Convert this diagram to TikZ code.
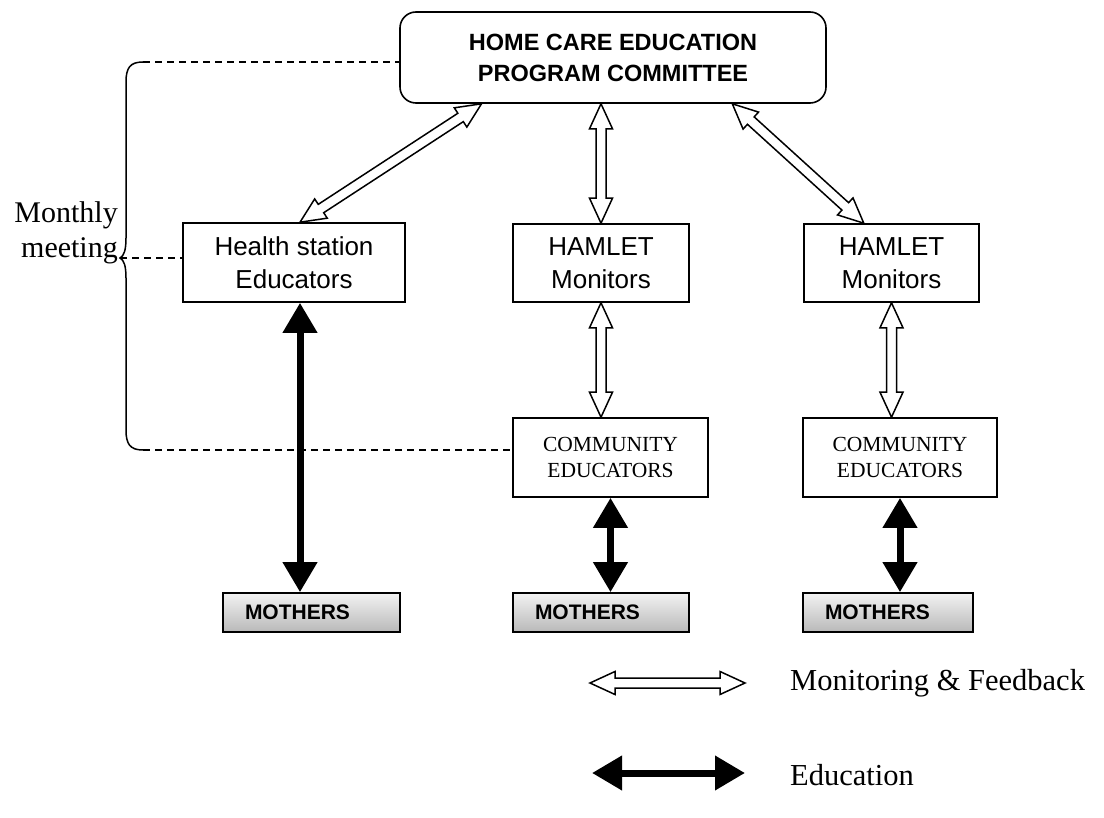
\documentclass[tikz,border=0pt]{standalone}
\usepackage{fontspec}
\setmainfont{Liberation Serif}
\newfontfamily\arialfont{Liberation Sans}
\usetikzlibrary{calc,arrows.meta}
\def\hlen{25pt}\def\hw{11.5pt}\def\sw{5pt}
\newcommand\hollowarr[2]{%
\draw[hollowline]
 (#1)
 -- ($(#1)!\hlen!(#2)!\hw!90:(#2)$)
 -- ($(#1)!\hlen!(#2)!\sw!90:(#2)$)
 -- ($(#2)!\hlen!(#1)!\sw!-90:(#1)$)
 -- ($(#2)!\hlen!(#1)!\hw!-90:(#1)$)
 -- (#2)
 -- ($(#2)!\hlen!(#1)!\hw!90:(#1)$)
 -- ($(#2)!\hlen!(#1)!\sw!90:(#1)$)
 -- ($(#1)!\hlen!(#2)!\sw!-90:(#2)$)
 -- ($(#1)!\hlen!(#2)!\hw!-90:(#2)$)
 -- cycle;}
\begin{document}
\begin{tikzpicture}[x=1pt,y=-1pt,
  box/.style={draw,line width=1.6pt,inner sep=0pt,align=center},
  sansbox/.style={box,font=\arialfont\fontsize{26}{33}\selectfont},
  serifbox/.style={box,font=\fontsize{21.5}{26}\selectfont},
  mothers/.style={draw,line width=1.6pt,inner ysep=0pt,inner xsep=22pt,
    minimum height=39pt,text width=#1,align=left,
    top color=gray!10,bottom color=gray!55,
    font=\arialfont\bfseries\fontsize{21}{24}\selectfont},
  hollowline/.style={draw=black,fill=white,line width=1.5pt,line join=miter},
  edu/.style={line width=7pt,{Triangle[length=30pt,width=33pt]}-{Triangle[length=30pt,width=33pt]}},
  meet/.style={line width=1.5pt,dash pattern=on 7pt off 5pt},
  bracel/.style={line width=1.5pt},
  legtext/.style={font=\fontsize{30.5}{34}\selectfont,anchor=west,inner sep=0pt}]
\useasboundingbox (0,0) rectangle (1104,818);

% boxes
\node[box,rounded corners=16pt,minimum width=426pt,minimum height=91pt,
  font=\arialfont\bfseries\fontsize{23.5}{31}\selectfont] (top) at (613,57.5)
  {HOME CARE EDUCATION\\PROGRAM COMMITTEE};
\node[sansbox,minimum width=222pt,minimum height=79pt] (hs) at (294,262.5) {Health station\\Educators};
\node[sansbox,minimum width=176pt,minimum height=78pt] (hm) at (601,263) {HAMLET\\Monitors};
\node[sansbox,minimum width=175pt,minimum height=78pt] (hr) at (891.5,263) {HAMLET\\Monitors};
\node[serifbox,minimum width=195pt,minimum height=79pt] (cm) at (610.5,457.5) {COMMUNITY\\EDUCATORS};
\node[serifbox,minimum width=194pt,minimum height=79pt] (cr) at (900,457.5) {COMMUNITY\\EDUCATORS};
\node[mothers=133pt] (m1) at (311.5,612.5) {MOTHERS};
\node[mothers=132pt] (m2) at (601,612.5) {MOTHERS};
\node[mothers=126pt] (m3) at (888,612.5) {MOTHERS};

% monthly meeting
\node[align=right,anchor=east,inner sep=0pt,font=\fontsize{30}{35}\selectfont] (mm) at (118,233) {Monthly\\meeting};
\coordinate (bt) at (143,62);
\coordinate (btip) at (120,258);
\coordinate (bb) at (143,450);
\draw[bracel] (bt) .. controls (130,62) and (126,68) .. (126,82) -- (126,238)
  .. controls (126,250) and (124,256) .. (btip)
  .. controls (124,260) and (126,266) .. (126,278) -- (126,430)
  .. controls (126,444) and (130,450) .. (bb);
\draw[meet] (bt) -- (bt -| top.west);
\draw[meet] (btip) -- (btip -| hs.west);
\draw[meet] (bb) -- (bb -| cm.west);

% monitoring arrows
\coordinate (a1) at ($(top.south west)!0.1925!(top.south east)$);
\coordinate (a2) at ($(hs.north west)!0.527!(hs.north east)$);
\coordinate (b1) at (hm.north |- top.south);
\coordinate (b2) at (hm.north);
\coordinate (c1) at ($(top.south west)!0.779!(top.south east)$);
\coordinate (c2) at ($(hr.north west)!0.343!(hr.north east)$);
\coordinate (d1) at (hm.south);
\coordinate (d2) at (hm.south |- cm.north);
\coordinate (e1) at (hr.south);
\coordinate (e2) at (hr.south |- cr.north);
\hollowarr{a1}{a2}
\hollowarr{b1}{b2}
\hollowarr{c1}{c2}
\hollowarr{d1}{d2}
\hollowarr{e1}{e2}

% education arrows
\coordinate (f1) at ($(hs.south)+(6,0)$);
\coordinate (f2) at (f1 |- m1.north);
\coordinate (g1) at (cm.south);
\coordinate (g2) at (cm.south |- m2.north);
\coordinate (h1) at (cr.south);
\coordinate (h2) at (cr.south |- m3.north);
\draw[edu] (f1) -- (f2);
\draw[edu] (g1) -- (g2);
\draw[edu] (h1) -- (h2);

% legend
\node[legtext] (l1) at (790,683) {Monitoring \& Feedback};
\node[legtext] (l2) at (790,775) {Education};
\coordinate (la) at (590,683);
\coordinate (lb) at (745,683);
\coordinate (lc) at (592,773);
\coordinate (ld) at (745,773);
\hollowarr{la}{lb}
\draw[edu] (lc) -- (ld);
\end{tikzpicture}
\end{document}
